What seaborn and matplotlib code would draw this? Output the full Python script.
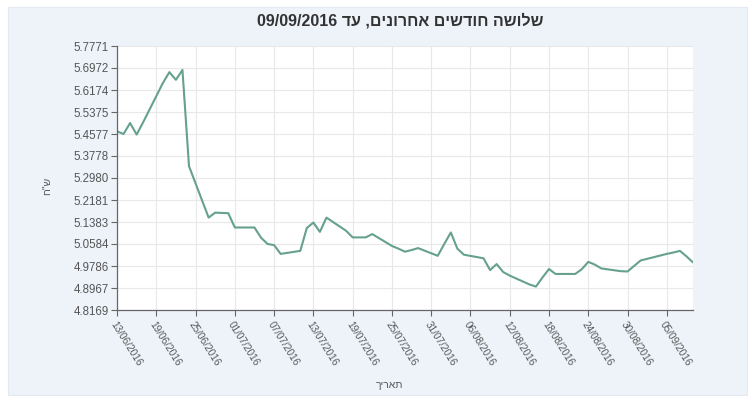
import matplotlib
matplotlib.use("Agg")
import matplotlib.pyplot as plt
from matplotlib.patches import Rectangle
import seaborn as sns
import pandas as pd
import numpy as np

# ---- data ----
dates = [
    "13/06/2016", "14/06/2016", "15/06/2016", "16/06/2016", "17/06/2016",
    "20/06/2016", "21/06/2016", "22/06/2016", "23/06/2016", "24/06/2016",
    "27/06/2016", "28/06/2016", "29/06/2016", "30/06/2016", "01/07/2016",
    "04/07/2016", "05/07/2016", "06/07/2016", "07/07/2016", "08/07/2016",
    "11/07/2016", "12/07/2016", "13/07/2016", "14/07/2016", "15/07/2016",
    "18/07/2016", "19/07/2016", "20/07/2016", "21/07/2016", "22/07/2016",
    "25/07/2016", "26/07/2016", "27/07/2016", "28/07/2016", "29/07/2016",
    "01/08/2016", "02/08/2016", "03/08/2016", "04/08/2016", "05/08/2016",
    "08/08/2016", "09/08/2016", "10/08/2016", "11/08/2016", "12/08/2016",
    "15/08/2016", "16/08/2016", "17/08/2016", "18/08/2016", "19/08/2016",
    "22/08/2016", "23/08/2016", "24/08/2016", "25/08/2016", "26/08/2016",
    "29/08/2016", "30/08/2016", "31/08/2016", "01/09/2016", "02/09/2016",
    "05/09/2016", "06/09/2016", "07/09/2016", "08/09/2016", "09/09/2016",
]
rates = [
    5.467, 5.457, 5.497, 5.455, 5.500,
    5.642, 5.682, 5.654, 5.690, 5.340,
    5.153, 5.171, 5.170, 5.169, 5.117,
    5.117, 5.080, 5.057, 5.053, 5.021,
    5.032, 5.115, 5.135, 5.101, 5.153,
    5.105, 5.081, 5.081, 5.081, 5.093,
    5.050, 5.040, 5.029, 5.035, 5.042,
    5.014, 5.057, 5.099, 5.040, 5.018,
    5.005, 4.962, 4.984, 4.955, 4.942,
    4.910, 4.902, 4.935, 4.966, 4.948,
    4.948, 4.965, 4.992, 4.982, 4.968,
    4.958, 4.957, 4.977, 4.997, 5.003,
    5.021, 5.026, 5.032, 5.012, 4.990,
]
x_tick_labels = [
    "13/06/2016", "19/06/2016", "25/06/2016", "01/07/2016", "07/07/2016",
    "13/07/2016", "19/07/2016", "25/07/2016", "31/07/2016", "06/08/2016",
    "12/08/2016", "18/08/2016", "24/08/2016", "30/08/2016", "05/09/2016",
]
y_tick_labels = [
    "4.8169", "4.8967", "4.9786", "5.0584", "5.1383", "5.2181", "5.2980",
    "5.3778", "5.4577", "5.5375", "5.6174", "5.6972", "5.7771",
]
title_text = "שלושה חודשים אחרונים, עד 09/09/2016"
x_label = "תאריך"
y_label = 'ש"ח'


def visual_rtl(s):
    """Convert a logical RTL (Hebrew) string into visual LTR order."""
    def is_heb(ch):
        return "\u0590" <= ch <= "\u05FF"
    words = s.split(" ")
    out = []
    for w in words:
        if any(is_heb(c) for c in w):
            out.append(w[::-1])
        else:
            out.append(w)
    return " ".join(out[::-1])


sns.set_theme(style="white")
plt.rcParams["font.family"] = ["Liberation Sans", "DejaVu Sans"]

df = pd.DataFrame({"date": pd.to_datetime(dates, format="%d/%m/%Y"), "rate": rates})

fig = plt.figure(figsize=(7.55, 4.01), dpi=100, facecolor="white")
fig.patches.append(Rectangle((8 / 755, 6 / 401), 739 / 755, 388 / 401,
                             transform=fig.transFigure, facecolor="#eef3fa",
                             edgecolor="#e3e9f2", lw=0.8, zorder=-5))

ax = fig.add_axes([117 / 755, 1 - 310 / 401, (693 - 117) / 755, (310 - 46) / 401])
ax.set_zorder(2)
ax.set_facecolor("white")

sns.lineplot(data=df, x="date", y="rate", ax=ax, color="#66a08e", lw=1.5)

xt = pd.to_datetime(x_tick_labels, format="%d/%m/%Y")
ax.set_xlim(df["date"].iloc[0], df["date"].iloc[-1])
ax.set_xticks(xt)
ax.set_xticklabels(x_tick_labels, rotation=-58, ha="left", va="top",
                   rotation_mode="anchor", fontsize=7.2, color="#555555")

ymin, ymax = float(y_tick_labels[0]), float(y_tick_labels[-1])
ax.set_ylim(ymin, ymax)
yt = np.linspace(ymin, ymax, len(y_tick_labels))
ax.set_yticks(yt)
ax.set_yticklabels(y_tick_labels, fontsize=8.3, color="#555555")

ax.grid(True, color="#e8e8e8", lw=0.8)
ax.tick_params(axis="both", which="both", length=4, width=0.8, color="#666666",
               direction="out", left=True, bottom=True, pad=2)
ax.tick_params(axis="x", pad=3)
for side in ["top", "right"]:
    ax.spines[side].set_visible(False)
for side in ["left", "bottom"]:
    ax.spines[side].set_color("#666666")
    ax.spines[side].set_linewidth(0.9)

ax.set_xlabel(visual_rtl(x_label), fontsize=7.5, color="#555555")
ax.xaxis.set_label_coords((390 - 117) / (693 - 117), -(380 - 310) / (310 - 46))
ax.set_ylabel(visual_rtl(y_label), fontsize=7.5, color="#555555")
ax.yaxis.set_label_coords(-(117 - 52) / (693 - 117), 0.47)

fig.text(400 / 755, 1 - 21 / 401, visual_rtl(title_text), ha="center", va="center",
         fontsize=11.5, fontweight="bold", color="#333333")

fig.savefig("out.png", dpi=100, facecolor=fig.get_facecolor())
